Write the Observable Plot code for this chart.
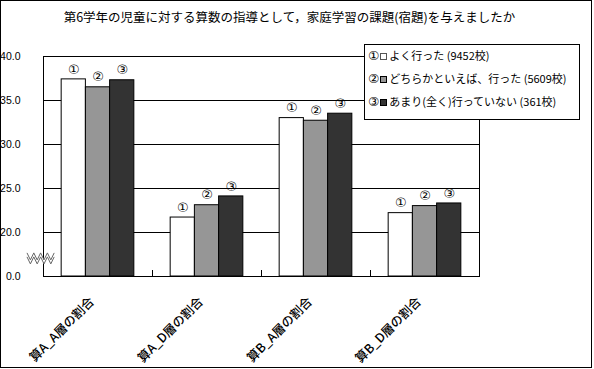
<!DOCTYPE html>
<html><head><meta charset="utf-8">
<script src="https://cdn.jsdelivr.net/npm/d3@7"></script>
<script src="https://cdn.jsdelivr.net/npm/@observablehq/plot@0.6"></script>
<style>
body{margin:0;background:#fff;}
#wrap{position:relative;width:594px;height:369px;overflow:hidden;font-family:"Noto Sans CJK JP",sans-serif;color:#000;}
#border{position:absolute;left:0;top:0;width:592px;height:368px;box-sizing:border-box;border:1px solid #000;pointer-events:none;}
#title{position:absolute;left:0;top:8px;width:579px;text-align:center;font-size:12.5px;line-height:18px;white-space:nowrap;}
#chart{position:absolute;left:0;top:0;}
#legend{position:absolute;left:364px;top:44px;width:216px;height:76px;box-sizing:border-box;border:1px solid #000;background:#fff;font-size:11px;}
.row{position:absolute;left:3px;height:16px;line-height:16px;white-space:nowrap;}
.num{font-family:"DejaVu Sans",sans-serif;font-size:12.5px;color:#000;}
.sw{display:inline-block;width:7px;height:7px;box-sizing:border-box;border:1px solid #555;margin:0 2px 1px 1px;vertical-align:middle;}
</style></head><body>
<div id="wrap">
  <div id="chart"></div>
  <div id="title">第6学年の児童に対する算数の指導として，家庭学習の課題(宿題)を与えましたか</div>
  <div id="legend"></div>
  <div id="border"></div>
</div>
<script>
// ---- data ----
const categories = ["算A_A層の割合", "算A_D層の割合", "算B_A層の割合", "算B_D層の割合"];
const seriesMarks = ["①", "②", "③"];
const seriesNames = ["よく行った", "どちらかといえば、行った", "あまり(全く)行っていない"];
const seriesCounts = ["(9452校)", "(5609校)", "(361校)"];
const values1 = [37.4, 21.7, 33.0, 22.2];
const values2 = [36.5, 23.1, 32.7, 23.0];
const values3 = [37.3, 24.1, 33.5, 23.3];
const yTicks = [15, 20, 25, 30, 35, 40];
const yTickLabels = ["0.0", "20.0", "25.0", "30.0", "35.0", "40.0"];
const axisBreak = 15;      // bottom of the broken axis (labelled 0.0)
const colors = ["#ffffff", "#969696", "#333333"];

// ---- layout ----
const W = 594, H = 369, ML = 43, MR = 115, MT = 56, MB = 93;
const bw = (W - ML - MR) / categories.length;
const off = bw / 6, bar = bw * 2 / 9;
const pxPerUnit = (H - MT - MB) / (yTicks[yTicks.length - 1] - axisBreak);
const jp = '"Noto Sans CJK JP", sans-serif';

const seriesValues = [values1, values2, values3];
const rows = seriesValues.map((vals, s) => categories.map((c, i) => ({cat: c, value: vals[i], s})));
const labelOf = new Map(yTicks.map((t, i) => [t, yTickLabels[i]]));

const marks = [
  Plot.ruleY(yTicks.slice(1), {stroke: "#000", strokeWidth: 1}),
  Plot.frame({stroke: "#000", strokeWidth: 1}),
  Plot.ruleX(categories.slice(1), {x: d => d, y1: axisBreak, y2: axisBreak + 6 / pxPerUnit, dx: -bw / 2, stroke: "#000"}),
];
rows.forEach((r, s) => {
  marks.push(Plot.barY(r, {
    x: "cat", y1: axisBreak, y2: "value", fill: colors[s], stroke: "#000", strokeWidth: 1,
    insetLeft: off + s * bar, insetRight: bw - off - (s + 1) * bar
  }));
  marks.push(Plot.text(r, {
    x: "cat", y: "value", text: () => seriesMarks[s], dx: -bw / 2 + off + (s + 0.5) * bar,
    dy: -10, fontSize: 13, lineAnchor: "middle", fontFamily: '"DejaVu Sans", sans-serif', fill: "#000"
  }));
});
marks.push(Plot.text(categories, {
  x: d => d, y: axisBreak, text: d => d, rotate: -45, textAnchor: "end", lineAnchor: "middle",
  dx: -6, dy: 23, fontSize: 12.5, fontWeight: 500, fontFamily: jp, fill: "#000"
}));
marks.push(Plot.axisY({ticks: yTicks, tickFormat: d => labelOf.get(d), tickSize: 0, tickPadding: 23, fontSize: 10.5, label: null}));

const plot = Plot.plot({
  width: W, height: H, marginLeft: ML, marginRight: MR, marginTop: MT, marginBottom: MB,
  style: {fontFamily: '"Liberation Sans", Arial, sans-serif', background: "transparent", overflow: "visible"},
  x: {type: "band", domain: categories, padding: 0, axis: null},
  y: {domain: [axisBreak, yTicks[yTicks.length - 1]], axis: null},
  marks
});

// axis break symbol, positioned through the y scale
const yScale = plot.scale("y");
const yc = yScale.apply(axisBreak + 2);
const svg = d3.select(plot);
const x0 = ML - 16, seg = 3.4, nseg = 8, amp = 7, gap = 4;
const zig = (dy) => d3.range(nseg + 1).map(k => [x0 + k * seg, yc + dy + (k % 2 === 0 ? -amp / 2 : amp / 2)]);
const zTop = zig(-gap / 2), zBot = zig(gap / 2);
const g = svg.append("g");
g.append("path").attr("d", d3.line()(zTop.concat(zBot.slice().reverse())) + "Z").attr("fill", "#fff").attr("stroke", "none");
g.append("path").attr("d", d3.line()(zTop)).attr("fill", "none").attr("stroke", "#666").attr("stroke-width", 1);
g.append("path").attr("d", d3.line()(zBot)).attr("fill", "none").attr("stroke", "#666").attr("stroke-width", 1);

document.getElementById("chart").appendChild(plot);

// legend (HTML) from the same arrays
const legend = document.getElementById("legend");
seriesMarks.forEach((m, s) => {
  const row = document.createElement("div");
  row.className = "row";
  row.style.top = (2 + s * 23) + "px";
  const sw = `<span class="sw" style="background:${colors[s]};${s ? "border-color:#000" : ""}"></span>`;
  row.innerHTML = `<span class="num">${m}</span>${sw}${seriesNames[s]} ${seriesCounts[s]}`;
  legend.appendChild(row);
});
</script>
</body></html>
